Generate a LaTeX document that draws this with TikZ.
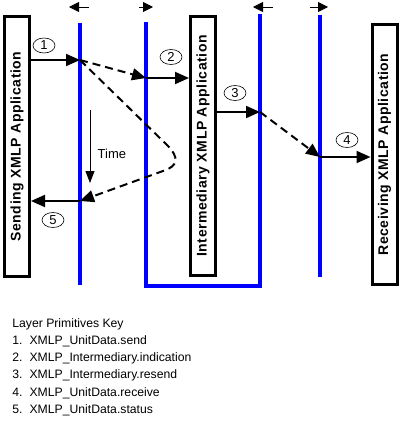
\documentclass[tikz,border=0pt]{standalone}
\usepackage{fontspec}
\setmainfont{Liberation Sans}
\newfontfamily\boxfont[LetterSpace=4]{Liberation Sans}
\usetikzlibrary{arrows.meta,shapes.geometric}

\begin{document}
\begin{tikzpicture}[x=1pt,y=-1pt,thick]

\tikzset{appbox/.style={draw, line width=3pt, rotate=90, inner sep=0pt, minimum height=25pt,
  font=\boxfont\bfseries\fontsize{14}{16}\selectfont},
layer/.style={blue, line width=3.5pt},
msg/.style={line width=2pt, -{Triangle[length=14pt,width=12pt]}},
%dashed messages keep the same tip
dmsg/.style={msg, dash pattern=on 8pt off 5pt},
num/.style={draw, ellipse, line width=0.6pt, inner sep=0pt, minimum width=22pt, minimum height=15pt,
  font=\fontsize{13}{13}\selectfont},
side/.style={line width=0.8pt, -{Triangle[length=10pt,width=10pt]}}}

\useasboundingbox (0,0) rectangle (402,428);

% applications
\node [appbox, minimum width=260pt] (send) at (17,146.5) {Sending XMLP Application};
\node [appbox, minimum width=259pt] (inter) at (203,146) {Intermediary XMLP Application};
\node [appbox, minimum width=260pt] (recv) at (384.5,154.5) {Receiving XMLP Application};

% layers
\coordinate (l1t) at (80,23);  \coordinate (l1b) at (80,285);
\coordinate (l2t) at (146,22); \coordinate (l2b) at (146,286);
\coordinate (l3t) at (260,14); \coordinate (l3b) at (260,286);
\coordinate (l4t) at (320,15); \coordinate (l4b) at (320,277);

\draw [layer] (l1t) -- (l1b);
\draw [layer] (l2t) -- (l2b) -- (l3b) -- (l3t);
\draw [layer] (l4t) -- (l4b);

% direction marks above the layers
\foreach \a/\b in {89/69, 139/153, 273/253, 310/328}
  \draw [side] (\a,7) -- (\b,7);

% primitives
\coordinate (p1) at (80,60);
\coordinate (p2) at (146,78);
\coordinate (p3) at (260,112);
\coordinate (p4) at (320,157);
\coordinate (p5) at (80,201);

\draw [msg] (send.south |- p1) -- (p1);
\draw [dmsg] (p1) -- (p2);
\draw [msg] (p2) -- (inter.north |- p2);
\draw [msg] (inter.south |- p3) -- (p3);
\draw [dmsg] (p3) -- (p4);
\draw [msg] (p4) -- (recv.north |- p4);
\draw [dmsg] (p1) -- (167,145) .. controls (179,157) and (179,166) .. (163,171) -- (p5);
\draw [msg] (p5) -- (send.south |- p5);

\node [num] (n1) at (44,45.5) {1};
\node [num] (n2) at (171,57) {2};
\node [num] (n3) at (235,93) {3};
\node [num] (n4) at (347,140) {4};
\node [num] (n5) at (53,220) {5};

% time
\coordinate (t1) at (90,110);
\coordinate (t2) at (90,183);
\draw [line width=0.8pt, -{Triangle[length=12pt,width=9pt]}] (t1) -- (t2);
\node [anchor=west, font=\fontsize{13}{13}\selectfont] (time) at (94,154) {Time};

% key
\node [anchor=north west, align=left, inner sep=0pt, font=\fontsize{12.2}{17.2}\selectfont] (key) at (12,318)
 {Layer Primitives Key\\
  1.\hspace{7pt}XMLP\_UnitData.send\\
  2.\hspace{7pt}XMLP\_Intermediary.indication\\
  3.\hspace{7pt}XMLP\_Intermediary.resend\\
  4.\hspace{7pt}XMLP\_UnitData.receive\\
  5.\hspace{7pt}XMLP\_UnitData.status};

\end{tikzpicture}
\end{document}
